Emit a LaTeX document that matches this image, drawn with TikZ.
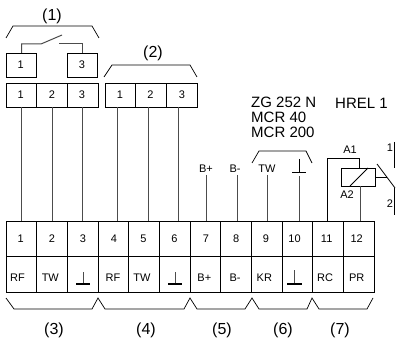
\documentclass[tikz,border=0pt]{standalone}
\usepackage{fontspec}
\setmainfont{Liberation Sans}
\tikzset{
  cell/.style={draw,line width=0.9pt,minimum width=30.67pt,minimum height=35.5pt,inner sep=0pt,outer sep=0pt},
  pin/.style={draw,line width=0.9pt,minimum width=30.67pt,minimum height=24pt,inner sep=0pt,outer sep=0pt},
  wire/.style={line width=1pt,black!70},
  bracket/.style={line width=0.7pt},
  gnd/.style={line width=1.4pt},
  txt/.style={inner sep=0pt,font=\fontsize{11}{12}\selectfont},
  big/.style={inner sep=0pt,font=\fontsize{15}{15}\selectfont},
  grp/.style={inner sep=0pt,font=\fontsize{16}{16}\selectfont},
}
\begin{document}
\begin{tikzpicture}[x=1pt,y=-1pt]
\useasboundingbox (0,0) rectangle (396,339);

%upper blocks
\node[pin] (k1) at (21.5,65) {};
\node[pin] (k3) at (82.5,65) {};
\node[pin] (p1) at (21.3,95) {};
\node[pin] (p2) at (52,95) {};
\node[pin] (p3) at (82.7,95) {};
\node[pin] (q1) at (120.3,95) {};
\node[pin] (q2) at (151,95) {};
\node[pin] (q3) at (181.7,95) {};

\node[txt] (lk1) at (20.7,64.5) {1};
\node[txt] (lk3) at (82,64.5) {3};
\node[txt] (lp1) at (20.7,94.5) {1};
\node[txt] (lp2) at (52,94.5) {2};
\node[txt] (lp3) at (82,94.5) {3};
\node[txt] (lq1) at (120,94.5) {1};
\node[txt] (lq2) at (150.5,94.5) {2};
\node[txt] (lq3) at (182,94.5) {3};

%terminal strip
\node[cell] (c1) at (21.3,239) {};
\node[cell] (c2) at (52,239) {};
\node[cell] (c3) at (82.7,239) {};
\node[cell] (c4) at (113.3,239) {};
\node[cell] (c5) at (144,239) {};
\node[cell] (c6) at (174.7,239) {};
\node[cell] (c7) at (205.3,239) {};
\node[cell] (c8) at (236,239) {};
\node[cell] (c9) at (266.7,239) {};
\node[cell] (c10) at (297.3,239) {};
\node[cell] (c11) at (328,239) {};
\node[cell] (c12) at (358.7,239) {};

\node[cell] (d1) at (21.3,274.5) {};
\node[cell] (d2) at (52,274.5) {};
\node[cell] (d3) at (82.7,274.5) {};
\node[cell] (d4) at (113.3,274.5) {};
\node[cell] (d5) at (144,274.5) {};
\node[cell] (d6) at (174.7,274.5) {};
\node[cell] (d7) at (205.3,274.5) {};
\node[cell] (d8) at (236,274.5) {};
\node[cell] (d9) at (266.7,274.5) {};
\node[cell] (d10) at (297.3,274.5) {};
\node[cell] (d11) at (328,274.5) {};
\node[cell] (d12) at (358.7,274.5) {};

\node[txt] (n1) at (20.7,238.5) {1};
\node[txt] (n2) at (52,238.5) {2};
\node[txt] (n3) at (83,238.5) {3};
\node[txt] (n4) at (114,238.5) {4};
\node[txt] (n5) at (143.5,238.5) {5};
\node[txt] (n6) at (174.5,238.5) {6};
\node[txt] (n7) at (206,238.5) {7};
\node[txt] (n8) at (236.3,238.5) {8};
\node[txt] (n9) at (266,238.5) {9};
\node[txt] (n10) at (294.5,238.5) {10};
\node[txt] (n11) at (326.7,238.5) {11};
\node[txt] (n12) at (356.7,238.5) {12};

\node[txt] (m1) at (17.5,278) {RF};
\node[txt] (m2) at (50.3,278) {TW};
\node[txt] (m4) at (113,278) {RF};
\node[txt] (m5) at (142,278) {TW};
\node[txt] (m7) at (204.3,278) {B+};
\node[txt] (m8) at (235,278) {B-};
\node[txt] (m9) at (264.3,278) {KR};
\node[txt] (m11) at (325,278) {RC};
\node[txt] (m12) at (356.7,278) {PR};

%ground symbols
\draw[wire] (83,272) -- (83,284);
\draw[gnd] (76,284) -- (90,284);
\draw[wire] (175,272) -- (175,284);
\draw[gnd] (168,284) -- (182,284);
\draw[wire] (294.5,270) -- (294.5,284);
\draw[gnd] (287,284) -- (302,284);
\draw[line width=0.8pt] (299,159) -- (299,172);
\draw[line width=0.8pt] (292,172) -- (306,172);

%free ends
\coordinate (w4) at (117,107);
\coordinate (w5) at (148,107);
\coordinate (w6) at (178,107);
\coordinate (w7) at (206,175);
\coordinate (w8) at (237,175);
\coordinate (w9) at (267,175);
\coordinate (w10) at (299,176);
\coordinate (w11) at (327,221);
\coordinate (w12) at (360,221);

%wires
\draw[wire] (p1.south) -- (p1.south |- c1.north);
\draw[wire] (p2.south) -- (p2.south |- c2.north);
\draw[wire] (p3.south) -- (p3.south |- c3.north);
\draw[wire] (w4) -- (w4 |- c4.north);
\draw[wire] (w5) -- (w5 |- c5.north);
\draw[wire] (w6) -- (w6 |- c6.north);
\draw[wire] (w7) -- (w7 |- c7.north);
\draw[wire] (w8) -- (w8 |- c8.north);
\draw[wire] (w9) -- (w9 |- c9.north);
\draw[wire] (w10) -- (w10 |- c10.north);

%contact
\coordinate (sa) at (41,44);
\coordinate (sb) at (62,35);
\coordinate (sc) at (59,44);
\draw[wire] (k1.north) |- (sa) -- (sb);
\draw[wire] (k3.north) |- (sc);

%relay
\node[draw,line width=0.9pt,minimum width=34pt,minimum height=18pt,inner sep=0pt,outer sep=0pt] (rel) at (358.7,177) {};
\coordinate (ra) at (359,168);
\coordinate (rb) at (360,186);
\coordinate (rc) at (387,177);
\coordinate (ar) at (395,188);
\draw[line width=0.8pt] (w11) |- (359,158) -- (ra);
\draw[wire] (rb) -- (w12);
\draw[line width=0.8pt] (350,186) -- (368,168);
\draw[line width=0.8pt] (rel.east) -- (rc);
\draw[line width=0.8pt] (377,164) -- (ar);
\draw[line width=0.8pt] (394,142) -- (394,168);
\draw[line width=0.8pt] (394,188) -- (394,215);

\node[txt] (a1) at (350,150) {A1};
\node[txt] (a2) at (347,195) {A2};
\node[txt] (s1) at (390,148) {1};
\node[txt] (s2) at (390,204) {2};
\node[txt] (bp) at (206,169) {B+};
\node[txt] (bm) at (235,169) {B-};
\node[txt] (tw) at (267,169) {TW};

\node[big,anchor=west] (zg) at (251,102) {ZG 252 N};
\node[big,anchor=west] (mc1) at (251,117) {MCR 40};
\node[big,anchor=west] (mc2) at (251,132) {MCR 200};
\node[big,anchor=west] (hr) at (335,103) {HREL 1};

%brackets
\draw[bracket] (6,38) -- (13,26) -- (92,26) -- (99,38);
\draw[bracket] (104,77) -- (112,65) -- (190,65) -- (197,77);
\draw[bracket] (252,163) -- (259,151) -- (306,151) -- (312,163);
\draw[bracket] (6,298) -- (14,309) -- (92,309) -- (98,298) -- (105,309) -- (184,309) -- (190,298)
  -- (197,309) -- (245,309) -- (252,298) -- (259,309) -- (307,309) -- (312,298) -- (319,309)
  -- (367,309) -- (373,298);

\node[grp] (g1) at (52,16) {(1)};
\node[grp] (g2) at (153,53) {(2)};
\node[grp] (g3) at (54,330) {(3)};
\node[grp] (g4) at (146,330) {(4)};
\node[grp] (g5) at (222,330) {(5)};
\node[grp] (g6) at (283,330) {(6)};
\node[grp] (g7) at (340,330) {(7)};

\end{tikzpicture}
\end{document}
